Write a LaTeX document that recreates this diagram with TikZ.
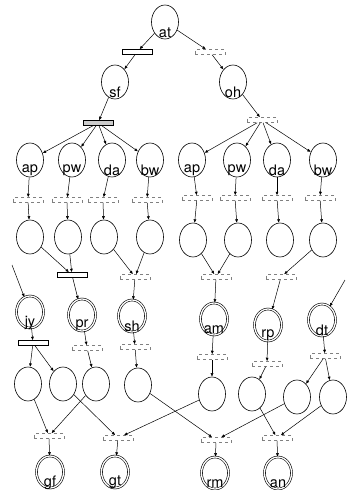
\documentclass[tikz,border=0pt]{standalone}
\usepackage{fontspec}
\setmainfont{TeX Gyre Heros}
\usetikzlibrary{shapes.geometric,arrows.meta}
\tikzset{
  place/.style={ellipse, draw, line width=0.6pt, minimum width=27pt, minimum height=34pt, inner sep=0pt},
  final/.style={place, double, double distance=1.3pt, minimum width=27pt, minimum height=32pt},
  trans/.style={rectangle, draw, line width=0.5pt, minimum width=30pt, minimum height=5pt, inner sep=0pt},
  transd/.style={trans, dashed, draw=gray},
  arc/.style={-{Latex[length=3.5pt,width=3pt]}, line width=0.5pt},
  tag/.style={label={[font=\fontsize{14.5}{14.5}\selectfont, yshift=-10.5pt]center:#1}}
}
\begin{document}
\begin{tikzpicture}[x=1pt, y=-1pt]
             \useasboundingbox (0,0) rectangle (346,490);
             % top of the tree
             \node[place, tag=at] (at) at (165, 22) {};
             \node[trans] (tal) at (137, 52) {};
             \node[transd] (tar) at (210, 52) {};
             \node[place, tag=sf] (sf) at (115, 82) {};
             \node[place, tag=oh] (oh) at (233, 82) {};
             \node[trans, fill=gray!40] (tsf) at (98, 123) {};
             \node[transd] (toh) at (262, 120) {};
             \draw[arc] (at) -- (tal);
             \draw[arc] (tal) -- (sf);
             \draw[arc] (at) -- (tar);
             \draw[arc] (tar) -- (oh);
             \draw[arc] (sf) -- (tsf);
             \draw[arc] (oh) -- (toh);
             % first row of places
             \node[place, tag=ap] (apl) at (30, 160) {};
             \node[place, tag=pw] (pwl) at (72, 160) {};
             \node[place, tag=da] (dal) at (112, 160) {};
             \node[place, tag=bw] (bwl) at (150, 160) {};
             \node[place, tag=ap] (apr) at (192, 160) {};
             \node[place, tag=pw] (pwr) at (237, 160) {};
             \node[place, tag=da] (dar) at (277, 160) {};
             \node[place, tag=bw] (bwr) at (323, 160) {};
             \draw[arc] (tsf) -- (apl);
             \draw[arc] (tsf) -- (pwl);
             \draw[arc] (tsf) -- (dal);
             \draw[arc] (tsf) -- (bwl);
             \draw[arc] (toh) -- (apr);
             \draw[arc] (toh) -- (pwr);
             \draw[arc] (toh) -- (dar);
             \draw[arc] (toh) -- (bwr);
             % transitions and empty places below them
             \node[transd] (u1) at (28, 200) {};
             \node[transd] (u2) at (67, 200) {};
             \node[transd] (u3) at (103, 200) {};
             \node[transd] (u4) at (147, 200) {};
             \node[transd] (u5) at (197, 198) {};
             \node[transd] (u6) at (235, 198) {};
             \node[transd] (u7) at (277, 198) {};
             \node[transd] (u8) at (320, 198) {};
             \node[place] (c1) at (30, 237) {};
             \node[place] (c2) at (68, 237) {};
             \node[place] (c3) at (104, 237) {};
             \node[place] (c4) at (150, 237) {};
             \node[place] (c5) at (193, 240) {};
             \node[place] (c6) at (238, 240) {};
             \node[place] (c7) at (280, 240) {};
             \node[place] (c8) at (323, 240) {};
             \draw[arc] (apl) -- (u1);
             \draw[arc] (u1) -- (c1);
             \draw[arc] (pwl) -- (u2);
             \draw[arc] (u2) -- (c2);
             \draw[arc] (dal) -- (u3);
             \draw[arc] (u3) -- (c3);
             \draw[arc] (bwl) -- (u4);
             \draw[arc] (u4) -- (c4);
             \draw[arc] (apr) -- (u5);
             \draw[arc] (u5) -- (c5);
             \draw[arc] (pwr) -- (u6);
             \draw[arc] (u6) -- (c6);
             \draw[arc] (dar) -- (u7);
             \draw[arc] (u7) -- (c7);
             \draw[arc] (bwr) -- (u8);
             \draw[arc] (u8) -- (c8);
             % merging into the double places
             \node[trans] (m1) at (72, 275) {};
             \node[transd] (m2) at (135, 277) {};
             \node[transd] (m3) at (216, 277) {};
             \node[transd] (m4) at (281, 277) {};
             \coordinate (inl) at (12, 265);
             \coordinate (inr) at (345, 280);
             \node[final, tag=jy] (jy) at (30, 312) {};
             \node[final, tag=pr] (pr) at (82, 315) {};
             \node[final, tag=sh] (sh) at (132, 316) {};
             \node[final, tag=am] (am) at (214, 319) {};
             \node[final, tag=rp] (rp) at (268, 325) {};
             \node[final, tag=dt] (dt) at (322, 320) {};
             \draw[arc] (c1) -- (m1);
             \draw[arc] (c2) -- (m1);
             \draw[arc] (c3) -- (m2);
             \draw[arc] (c4) -- (m2);
             \draw[arc] (c5) -- (m3);
             \draw[arc] (c6) -- (m3);
             \draw[arc] (c8) -- (m4);
             \draw[arc] (inl) -- (jy);
             \draw[arc] (m1) -- (pr);
             \draw[arc] (m2) -- (sh);
             \draw[arc] (m3) -- (am);
             \draw[arc] (m4) -- (rp);
             \draw[arc] (inr) -- (dt);
             % second row of empty places
             \node[trans] (n1) at (33, 343) {};
             \node[transd] (n2) at (87, 348) {};
             \node[transd] (n3) at (135, 347) {};
             \node[transd] (n4) at (212, 357) {};
             \node[transd] (n5) at (267, 364) {};
             \node[transd] (n6) at (325, 356) {};
             \node[place] (d1) at (28, 384) {};
             \node[place] (d2) at (63, 384) {};
             \node[place] (d3) at (96, 384) {};
             \node[place] (d4) at (138, 385) {};
             \node[place] (d5) at (212, 394) {};
             \node[place] (d6) at (252, 394) {};
             \node[place] (d7) at (297, 397) {};
             \node[place] (d8) at (333, 397) {};
             \draw[arc] (jy) -- (n1);
             \draw[arc] (n1) -- (d1);
             \draw[arc] (n1) -- (d2);
             \draw[arc] (pr) -- (n2);
             \draw[arc] (n2) -- (d3);
             \draw[arc] (sh) -- (n3);
             \draw[arc] (n3) -- (d4);
             \draw[arc] (am) -- (n4);
             \draw[arc] (n4) -- (d5);
             \draw[arc] (rp) -- (n5);
             \draw[arc] (n5) -- (d6);
             \draw[arc] (dt) -- (n6);
             \draw[arc] (n6) -- (d7);
             \draw[arc] (n6) -- (d8);
             % crossing arcs into the last places
             \node[transd] (ta) at (49, 436) {};
             \node[transd] (tb) at (118, 438) {};
             \node[transd] (tc) at (216, 440) {};
             \node[transd] (td) at (277, 438) {};
             \node[final, tag=gf] (gf) at (50, 472) {};
             \node[final, tag=gt] (gt) at (115, 472) {};
             \node[final, tag=rm] (rm) at (215, 473) {};
             \node[final, tag=an] (an) at (278, 473) {};
             \draw[arc] (d1) -- (ta);
             \draw[arc] (d3) -- (ta);
             \draw[arc] (d2) -- (tb);
             \draw[arc] (d5) -- (tb);
             \draw[arc] (d4) -- (tc);
             \draw[arc] (d7) -- (tc);
             \draw[arc] (d6) -- (td);
             \draw[arc] (d8) -- (td);
             \draw[arc] (ta) -- (gf);
             \draw[arc] (tb) -- (gt);
             \draw[arc] (tc) -- (rm);
             \draw[arc] (td) -- (an);
        \end{tikzpicture}
\end{document}
